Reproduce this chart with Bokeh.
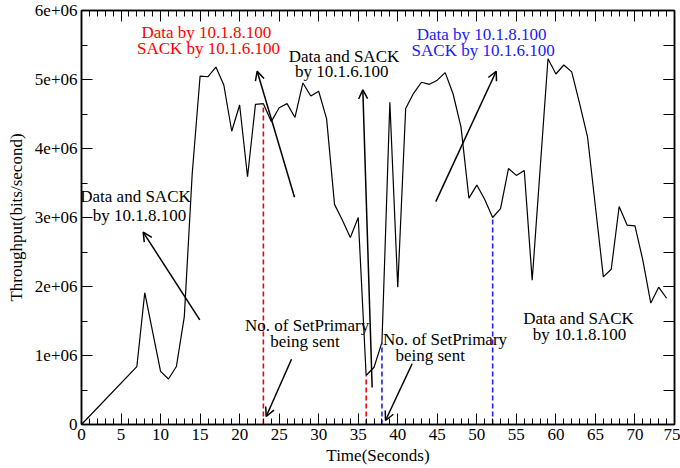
from bokeh.plotting import figure
from bokeh.models import (LinearAxis, SingleIntervalTicker, Range1d, Label, Arrow,
                          OpenHead, CustomJSTickFormatter)
from bokeh.embed import file_html
from bokeh.resources import INLINE

# ---- data ----
time_s = [0, 7, 8, 10, 11, 12, 13, 14, 15, 16, 17, 18, 19, 20, 21, 22, 23, 24, 25,
          26, 27, 28, 29, 30, 31, 32, 33, 34, 35, 36, 37, 38, 39, 40, 41, 42, 43,
          44, 45, 46, 47, 48, 49, 50, 51, 52, 53, 54, 55, 56, 57, 59, 60, 61, 62,
          63, 64, 66, 67, 68, 69, 70, 71, 72, 73, 74]
throughput_mbps = [0.00, 0.84, 1.91, 0.77, 0.66, 0.84, 1.56, 3.63, 5.05, 5.04, 5.18,
                   4.92, 4.25, 4.63, 3.59, 4.64, 4.65, 4.39, 4.59, 4.65, 4.45, 4.95,
                   4.76, 4.83, 4.43, 3.19, 2.96, 2.71, 3.00, 0.71, 0.83, 1.19, 4.67,
                   1.99, 4.58, 4.80, 4.96, 4.93, 4.99, 5.10, 4.79, 4.31, 3.28, 3.47,
                   3.26, 3.00, 3.13, 3.71, 3.61, 3.68, 2.09, 5.30, 5.08, 5.21, 5.11,
                   4.65, 4.17, 2.14, 2.25, 3.16, 2.89, 2.88, 2.38, 1.76, 1.99, 1.83]
throughput = [v * 1e6 for v in throughput_mbps]
red_marks = [23, 36]
blue_marks = [38, 52]

x_ticks_interval = 5
y_ticks_interval = 1e6

FONT = "Liberation Serif"
FS = "17px"

p = figure(width=680, height=468, x_range=Range1d(0, 75), y_range=Range1d(0, 6e6),
           output_backend="svg", toolbar_location=None,
           min_border_left=81, min_border_right=6, min_border_top=10, min_border_bottom=44)
p.grid.visible = False
p.outline_line_color = "black"
p.outline_line_width = 1.5
p.background_fill_color = "white"

fmt = CustomJSTickFormatter(code="""
if (tick == 0) { return "0"; }
return tick.toExponential().replace("e+", "e+0");
""")
blank = CustomJSTickFormatter(code='return "";')

xb = p.xaxis[0]
yl = p.yaxis[0]
xb.ticker = SingleIntervalTicker(interval=x_ticks_interval, num_minor_ticks=5)
yl.ticker = SingleIntervalTicker(interval=y_ticks_interval, num_minor_ticks=2)
yl.formatter = fmt

xt = LinearAxis(ticker=SingleIntervalTicker(interval=x_ticks_interval, num_minor_ticks=5),
                formatter=blank, major_label_text_font_size="1px", major_label_standoff=0)
yr = LinearAxis(ticker=SingleIntervalTicker(interval=y_ticks_interval, num_minor_ticks=2),
                formatter=blank, major_label_text_font_size="1px", major_label_standoff=0)
p.add_layout(xt, "above")
p.add_layout(yr, "right")

for ax in (xb, yl, xt, yr):
    ax.axis_line_color = "black"
    ax.axis_line_width = 1.5
    ax.major_tick_line_color = "black"
    ax.minor_tick_line_color = "black"
    ax.major_tick_line_width = 1
    ax.minor_tick_line_width = 1
    ax.major_tick_out = 0
    ax.minor_tick_out = 0
    ax.major_tick_in = 11
    ax.minor_tick_in = 6
    ax.major_label_text_font = FONT
    ax.major_label_text_color = "black"
    ax.axis_label_text_font = FONT
    ax.axis_label_text_font_style = "normal"
    ax.axis_label_text_font_size = FS
    ax.axis_label_text_color = "black"
yr.minor_tick_in = 11

for ax in (xb, yl):
    ax.major_label_text_font_size = FS
    ax.major_label_standoff = 4
xb.axis_label_standoff = 3
yl.axis_label_standoff = 6

xb.axis_label = "Time(Seconds)"
yl.axis_label = "Throughput(bits/second)"

# main series
p.line(time_s, throughput, line_color="black", line_width=1.2)

# dashed markers from data
lookup = dict(zip(time_s, throughput))
p.segment(x0=red_marks, y0=[0] * len(red_marks), x1=red_marks,
          y1=[lookup[t] for t in red_marks],
          line_color="#ff0000", line_width=1.6, line_dash="5 3")
p.segment(x0=blue_marks, y0=[0] * len(blue_marks), x1=blue_marks,
          y1=[lookup[t] for t in blue_marks],
          line_color="#2020ff", line_width=1.6, line_dash="5 3")

# annotation texts
def txt(x, y, s, color="black"):
    p.add_layout(Label(x=x, y=y, text=s, text_font=FONT, text_font_size=FS,
                       text_color=color, text_align="center", text_baseline="middle"))

txt(15.8, 5.68e6, "Data by 10.1.8.100", "#ff0000")
txt(16.06, 5.445e6, "SACK by 10.1.6.100", "#ff0000")
txt(33.2, 5.333e6, "Data and SACK")
txt(32.9, 5.116e6, "by 10.1.6.100")
txt(50.6, 5.652e6, "Data by 10.1.8.100", "#1a1aff")
txt(50.8, 5.42e6, "SACK by 10.1.6.100", "#1a1aff")
txt(6.83, 3.309e6, "Data and SACK")
txt(7.34, 3.03e6, "by 10.1.8.100")
txt(28.54, 1.435e6, "No. of SetPrimary")
txt(28.27, 1.207e6, "being sent")
txt(45.97, 1.232e6, "No. of SetPrimary")
txt(44.1, 1.0e6, "being sent")
txt(62.86, 1.541e6, "Data and SACK")
txt(62.98, 1.304e6, "by 10.1.8.100")

# arrows
def arrow(x0, y0, x1, y1):
    p.add_layout(Arrow(end=OpenHead(size=9, line_width=1.5, line_color="black"),
                       x_start=x0, y_start=y0, x_end=x1, y_end=y1,
                       line_color="black", line_width=1.5))

arrow(14.96, 1.517e6, 7.80, 2.787e6)
arrow(26.94, 3.294e6, 22.22, 5.12e6)
arrow(36.76, 0.536e6, 35.58, 4.85e6)
arrow(44.81, 3.23e6, 52.45, 5.12e6)
arrow(26.56, 0.946e6, 23.36, 0.116e6)
arrow(41.82, 0.88e6, 38.45, 0.058e6)

open("out.html", "w").write(file_html(p, INLINE))
